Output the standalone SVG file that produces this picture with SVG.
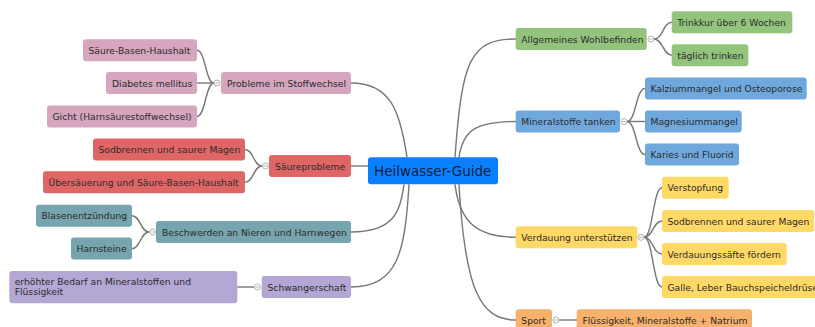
<svg xmlns="http://www.w3.org/2000/svg" width="815" height="327" viewBox="0 0 815 327">
<style>
text{font-family:"DejaVu Sans","Liberation Sans",sans-serif;font-size:9.2px;fill:#2e2a2c;dominant-baseline:central}
.pk rect{fill:#d5a6bd}.rd rect{fill:#e06666}.tl rect{fill:#76a5af}.pu rect{fill:#b4a7d6}
.gr rect{fill:#93c47d}.bl rect{fill:#6fa8dc}.ye rect{fill:#ffd966}.or rect{fill:#f6b26b}
#connectors path{fill:none;stroke:#777;stroke-width:1.4}
.c{fill:#fff;stroke:#aaa;stroke-width:0.9}
.cm{stroke:#aaa;stroke-width:0.9}
</style>
<rect width="815" height="327" fill="#fff"/>
<g id="connectors">
<path d="M351 83 C390 83 400 110 407 157.3"/>
<path d="M351 166 L368 166"/>
<path d="M351 232 C394 232 400 212 404 184.3"/>
<path d="M351 287 C398 287 405 252 409 184.3"/>
<path d="M455 157.3 C462 60 470 39 516 39"/>
<path d="M459 157.3 C463 130 476 121.5 516 121.5"/>
<path d="M455 184.3 C460 225 480 237.3 516 237.3"/>
<path d="M459 184.3 C465 290 480 320 516 320"/>
<path d="M214 83 C205.5 83 205.5 50.3 197 50.3"/>
<path d="M214 83 L197 83"/>
<path d="M214 83 C205.5 83 205.5 116.5 197 116.5"/>
<path d="M262 166 C253.5 166 253.5 149.5 245 149.5"/>
<path d="M262 166 C253.5 166 253.5 182.3 245 182.3"/>
<path d="M149 232 C140.5 232 140.5 215.7 132 215.7"/>
<path d="M149 232 C140.5 232 140.5 248.5 132 248.5"/>
<path d="M254 287 L237.3 287"/>
<path d="M654 39 C663 39 663 22.2 672 22.2"/>
<path d="M654 39 C663 39 663 55.2 672 55.2"/>
<path d="M627 121.5 C636 121.5 636 88.5 645 88.5"/>
<path d="M627 121.5 L645 121.5"/>
<path d="M627 121.5 C636 121.5 636 154.5 645 154.5"/>
<path d="M644 237.3 C653 237.3 653 187.7 662 187.7"/>
<path d="M644 237.3 C653 237.3 653 221 662 221"/>
<path d="M644 237.3 C653 237.3 653 254 662 254"/>
<path d="M644 237.3 C653 237.3 653 287 662 287"/>
<path d="M559 320 L577 320"/>
</g>
<g id="collapse">
<circle class="c" cx="217" cy="83" r="3"/><path class="cm" d="M215.3 83h3.4"/>
<circle class="c" cx="265.5" cy="166" r="3"/><path class="cm" d="M263.8 166h3.4"/>
<circle class="c" cx="152.5" cy="232" r="3"/><path class="cm" d="M150.8 232h3.4"/>
<circle class="c" cx="257.5" cy="287" r="3"/><path class="cm" d="M255.8 287h3.4"/>
<circle class="c" cx="651" cy="39" r="3"/><path class="cm" d="M649.3 39h3.4"/>
<circle class="c" cx="624" cy="121.5" r="3"/><path class="cm" d="M622.3 121.5h3.4"/>
<circle class="c" cx="641" cy="237.3" r="3"/><path class="cm" d="M639.3 237.3h3.4"/>
<circle class="c" cx="556" cy="320" r="3"/><path class="cm" d="M554.3 320h3.4"/>
</g>
<g id="root"><rect x="368" y="157.3" width="130" height="27" rx="3" fill="#0a80ff"/><text x="374" y="171" style="font-size:13.5px;fill:#0d1d3a">Heilwasser-Guide</text></g>
<g id="n-stoffwechsel" class="pk"><rect x="221" y="72" width="130" height="22" rx="3"/><text x="227" y="83">Probleme im Stoffwechsel</text></g>
<g id="n-saeure-basen" class="pk"><rect x="83" y="39.3" width="114" height="22" rx="3"/><text x="88.5" y="50.3">Säure-Basen-Haushalt</text></g>
<g id="n-diabetes" class="pk"><rect x="106" y="72" width="91" height="22" rx="3"/><text x="112" y="83">Diabetes mellitus</text></g>
<g id="n-gicht" class="pk"><rect x="47" y="105.5" width="150" height="22" rx="3"/><text x="52.5" y="116.5">Gicht (Harnsäurestoffwechsel)</text></g>
<g id="n-saeureprobleme" class="rd"><rect x="269" y="155" width="82" height="22" rx="3"/><text x="275" y="166">Säureprobleme</text></g>
<g id="n-sodbrennen1" class="rd"><rect x="93" y="138.5" width="152" height="22" rx="3"/><text x="98.5" y="149.5">Sodbrennen und saurer Magen</text></g>
<g id="n-uebersaeuerung" class="rd"><rect x="43" y="171.3" width="202" height="22" rx="3"/><text x="48.5" y="182.3">Übersäuerung und Säure-Basen-Haushalt</text></g>
<g id="n-nieren" class="tl"><rect x="156" y="221" width="195" height="22" rx="3"/><text x="162" y="232">Beschwerden an Nieren und Harnwegen</text></g>
<g id="n-blasen" class="tl"><rect x="36" y="204.7" width="96" height="22" rx="3"/><text x="41.5" y="215.7">Blasenentzündung</text></g>
<g id="n-harnsteine" class="tl"><rect x="71" y="237.5" width="61" height="22" rx="3"/><text x="76.5" y="248.5">Harnsteine</text></g>
<g id="n-schwanger" class="pu"><rect x="261.7" y="276" width="89.3" height="22" rx="3"/><text x="267.5" y="287">Schwangerschaft</text></g>
<g id="n-bedarf" class="pu"><rect x="9.3" y="271" width="228" height="32.3" rx="3"/><text x="14.7" y="281">erhöhter Bedarf an Mineralstoffen und</text><text x="14.7" y="291.5">Flüssigkeit</text></g>
<g id="n-wohlbefinden" class="gr"><rect x="515.7" y="28" width="131" height="22" rx="3"/><text x="521.3" y="39">Allgemeines Wohlbefinden</text></g>
<g id="n-trinkkur" class="gr"><rect x="671.7" y="11.2" width="120.6" height="22" rx="3"/><text x="677.3" y="22.2">Trinkkur über 6 Wochen</text></g>
<g id="n-taeglich" class="gr"><rect x="671.7" y="44.2" width="76.6" height="22" rx="3"/><text x="677.3" y="55.2">täglich trinken</text></g>
<g id="n-mineral" class="bl"><rect x="515.7" y="110.5" width="104.3" height="22" rx="3"/><text x="521.3" y="121.5">Mineralstoffe tanken</text></g>
<g id="n-kalzium" class="bl"><rect x="645" y="77.5" width="161.7" height="22" rx="3"/><text x="650.5" y="88.5">Kalziummangel und Osteoporose</text></g>
<g id="n-magnesium" class="bl"><rect x="645" y="110.5" width="96.7" height="22" rx="3"/><text x="650.5" y="121.5">Magnesiummangel</text></g>
<g id="n-karies" class="bl"><rect x="645" y="143.5" width="94" height="22" rx="3"/><text x="650.5" y="154.5">Karies und Fluorid</text></g>
<g id="n-verdauung" class="ye"><rect x="515.7" y="226.3" width="121.6" height="22" rx="3"/><text x="521.3" y="237.3">Verdauung unterstützen</text></g>
<g id="n-verstopfung" class="ye"><rect x="662" y="176.7" width="66.7" height="22" rx="3"/><text x="667.5" y="187.7">Verstopfung</text></g>
<g id="n-sodbrennen2" class="ye"><rect x="662" y="210" width="152.3" height="22" rx="3"/><text x="667.5" y="221">Sodbrennen und saurer Magen</text></g>
<g id="n-saefte" class="ye"><rect x="662" y="243" width="124.7" height="22" rx="3"/><text x="667.5" y="254">Verdauungssäfte fördern</text></g>
<g id="n-galle" class="ye"><rect x="662" y="276" width="165" height="22" rx="3"/><text x="667.5" y="287">Galle, Leber Bauchspeicheldrüse</text></g>
<g id="n-sport" class="or"><rect x="515.7" y="309.3" width="36.3" height="22" rx="3"/><text x="521.3" y="320.3">Sport</text></g>
<g id="n-fluessigkeit" class="or"><rect x="576.7" y="309.3" width="175.3" height="22" rx="3"/><text x="582.5" y="320.3">Flüssigkeit, Mineralstoffe + Natrium</text></g>
</svg>
